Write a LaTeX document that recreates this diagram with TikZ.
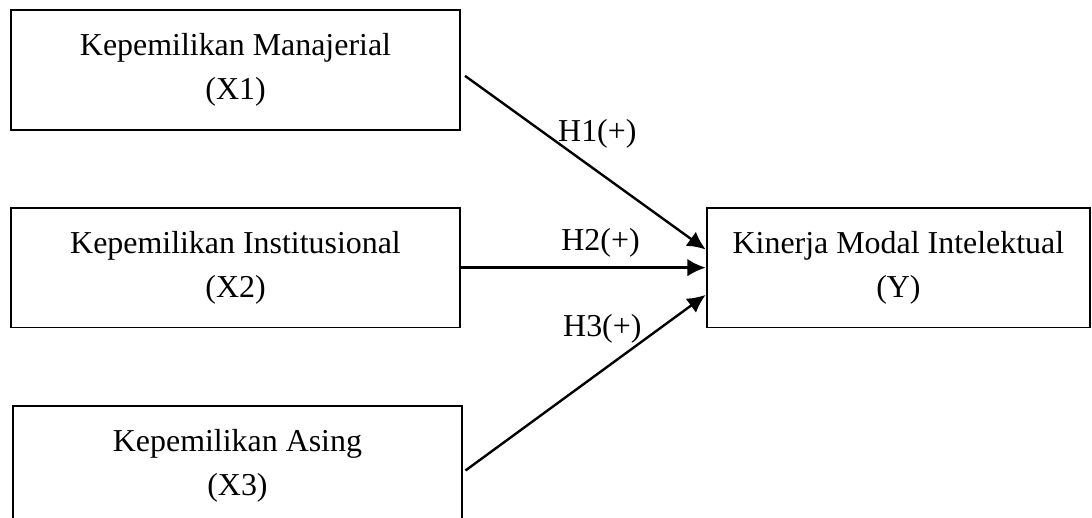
\documentclass[tikz,border=0pt]{standalone}
\usepackage{fontspec}
\setmainfont{Liberation Serif}
\usepackage{tikz}
\usetikzlibrary{arrows.meta,positioning}
\tikzset{
  >={Latex[length=2.4mm,width=2.3mm]},
  var/.style={draw, line width=0.7pt, minimum height=15.8mm, align=center,
    font=\fontsize{12}{16.5}\selectfont},
  link/.style={->, line width=0.9pt},
  hyp/.style={font=\fontsize{12}{14}\selectfont},
}

\begin{document}
\begin{tikzpicture}[node distance=10.1mm and 32.3mm]
  \node[var, minimum width=59.4mm] (X1) {Kepemilikan Manajerial\\(X1)};
  \node[var, minimum width=59.4mm, below=of X1] (X2) {Kepemilikan Institusional\\(X2)};
  \node[var, minimum width=59.4mm, below=of X2, xshift=0.26mm] (X3) {Kepemilikan Asing\\(X3)};
  \node[var, minimum width=50.7mm, right=of X2] (Y) {Kinerja Modal Intelektual\\(Y)};

  % page cuts the bottom of X3
  \pgfresetboundingbox
  \useasboundingbox ([xshift=-1.3mm, yshift=1.2mm]X1.north west) rectangle ++(144.3mm,-68.45mm);

  \draw[link] ([xshift=0.5mm, yshift=-0.8mm]X1.east) -- node[hyp, pos=0.55, yshift=5mm] {H1(+)} ([yshift=2.4mm]Y.west);
  \draw[link] (X2.east) -- node[hyp, pos=0.57, yshift=3.3mm] {H2(+)} (Y.west);
  \draw[link] ([xshift=0.3mm, yshift=-0.66mm]X3.east) -- node[hyp, pos=0.57, yshift=5.5mm] {H3(+)} ([yshift=-3.6mm]Y.west);
\end{tikzpicture}
\end{document}
